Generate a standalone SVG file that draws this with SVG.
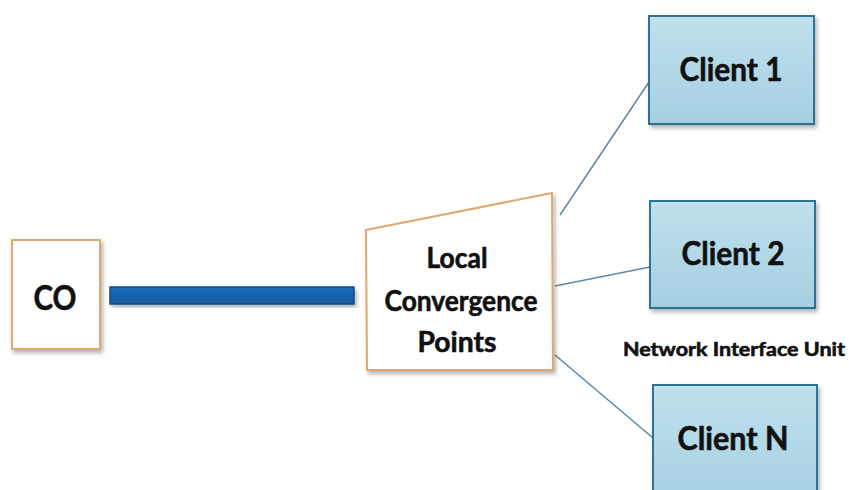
<svg xmlns="http://www.w3.org/2000/svg" width="850" height="490" viewBox="0 0 850 490">
  <defs>
    <filter id="shadow" x="-10%" y="-10%" width="130%" height="130%">
      <feDropShadow dx="2" dy="3" stdDeviation="2" flood-color="#000" flood-opacity="0.3"/>
    </filter>
    <linearGradient id="clientFill" x1="0" y1="0" x2="0" y2="1">
      <stop offset="0" stop-color="#bfe0ec"/>
      <stop offset="1" stop-color="#a6d0e2"/>
    </linearGradient>
    <linearGradient id="barFill" x1="0" y1="0" x2="0" y2="1">
      <stop offset="0" stop-color="#1c6ab8"/>
      <stop offset="1" stop-color="#1458a0"/>
    </linearGradient>
  </defs>
  <style>
    .label { font-family: Lato, "Open Sans", "Liberation Sans", sans-serif; font-weight: bold; fill: #111; stroke: #111; stroke-width: 0.6; text-anchor: middle; }
    .white { fill: #ffffff; stroke: #e0a86e; stroke-width: 2; }
    .client { fill: url(#clientFill); stroke: #2f7394; stroke-width: 2; }
    .link { stroke: #5a88ad; stroke-width: 1.5; fill: none; }
  </style>
  <rect width="850" height="490" fill="#ffffff"/>

  <!-- connectors -->
  <g id="connectors">
    <rect x="110" y="287" width="244" height="17" fill="url(#barFill)" stroke="#0e4a88" stroke-width="1.5" filter="url(#shadow)"/>
    <line class="link" x1="560" y1="215" x2="649" y2="82"/>
    <line class="link" x1="555" y1="286" x2="650" y2="267"/>
    <line class="link" x1="555" y1="355" x2="653" y2="438"/>
  </g>

  <g id="co">
    <rect class="white" x="12" y="240" width="88" height="109" filter="url(#shadow)"/>
    <text class="label" x="55" y="310" font-size="35" textLength="43" lengthAdjust="spacingAndGlyphs">CO</text>
  </g>

  <g id="lcp">
    <polygon class="white" points="366,230 552,193 553,370 367,370" filter="url(#shadow)"/>
    <text class="label" x="457" y="268" font-size="28" textLength="61" lengthAdjust="spacingAndGlyphs">Local</text>
    <text class="label" x="461" y="311" font-size="28" textLength="153" lengthAdjust="spacingAndGlyphs">Convergence</text>
    <text class="label" x="457" y="352" font-size="28" textLength="79" lengthAdjust="spacingAndGlyphs">Points</text>
  </g>

  <g id="client1">
    <rect class="client" x="649" y="16" width="165" height="108" filter="url(#shadow)"/>
    <text class="label" x="731" y="81" font-size="32" textLength="103" lengthAdjust="spacingAndGlyphs">Client 1</text>
  </g>

  <g id="client2">
    <rect class="client" x="650" y="201" width="165" height="107" filter="url(#shadow)"/>
    <text class="label" x="733" y="265" font-size="32" textLength="103" lengthAdjust="spacingAndGlyphs">Client 2</text>
  </g>

  <g id="niu-label">
    <text class="label" x="734" y="356" font-size="19" stroke-width="0.4" textLength="222" lengthAdjust="spacingAndGlyphs">Network Interface Unit</text>
  </g>

  <g id="clientN">
    <rect class="client" x="653" y="385" width="164" height="120" filter="url(#shadow)"/>
    <text class="label" x="733" y="450" font-size="32" textLength="111" lengthAdjust="spacingAndGlyphs">Client N</text>
  </g>
</svg>
